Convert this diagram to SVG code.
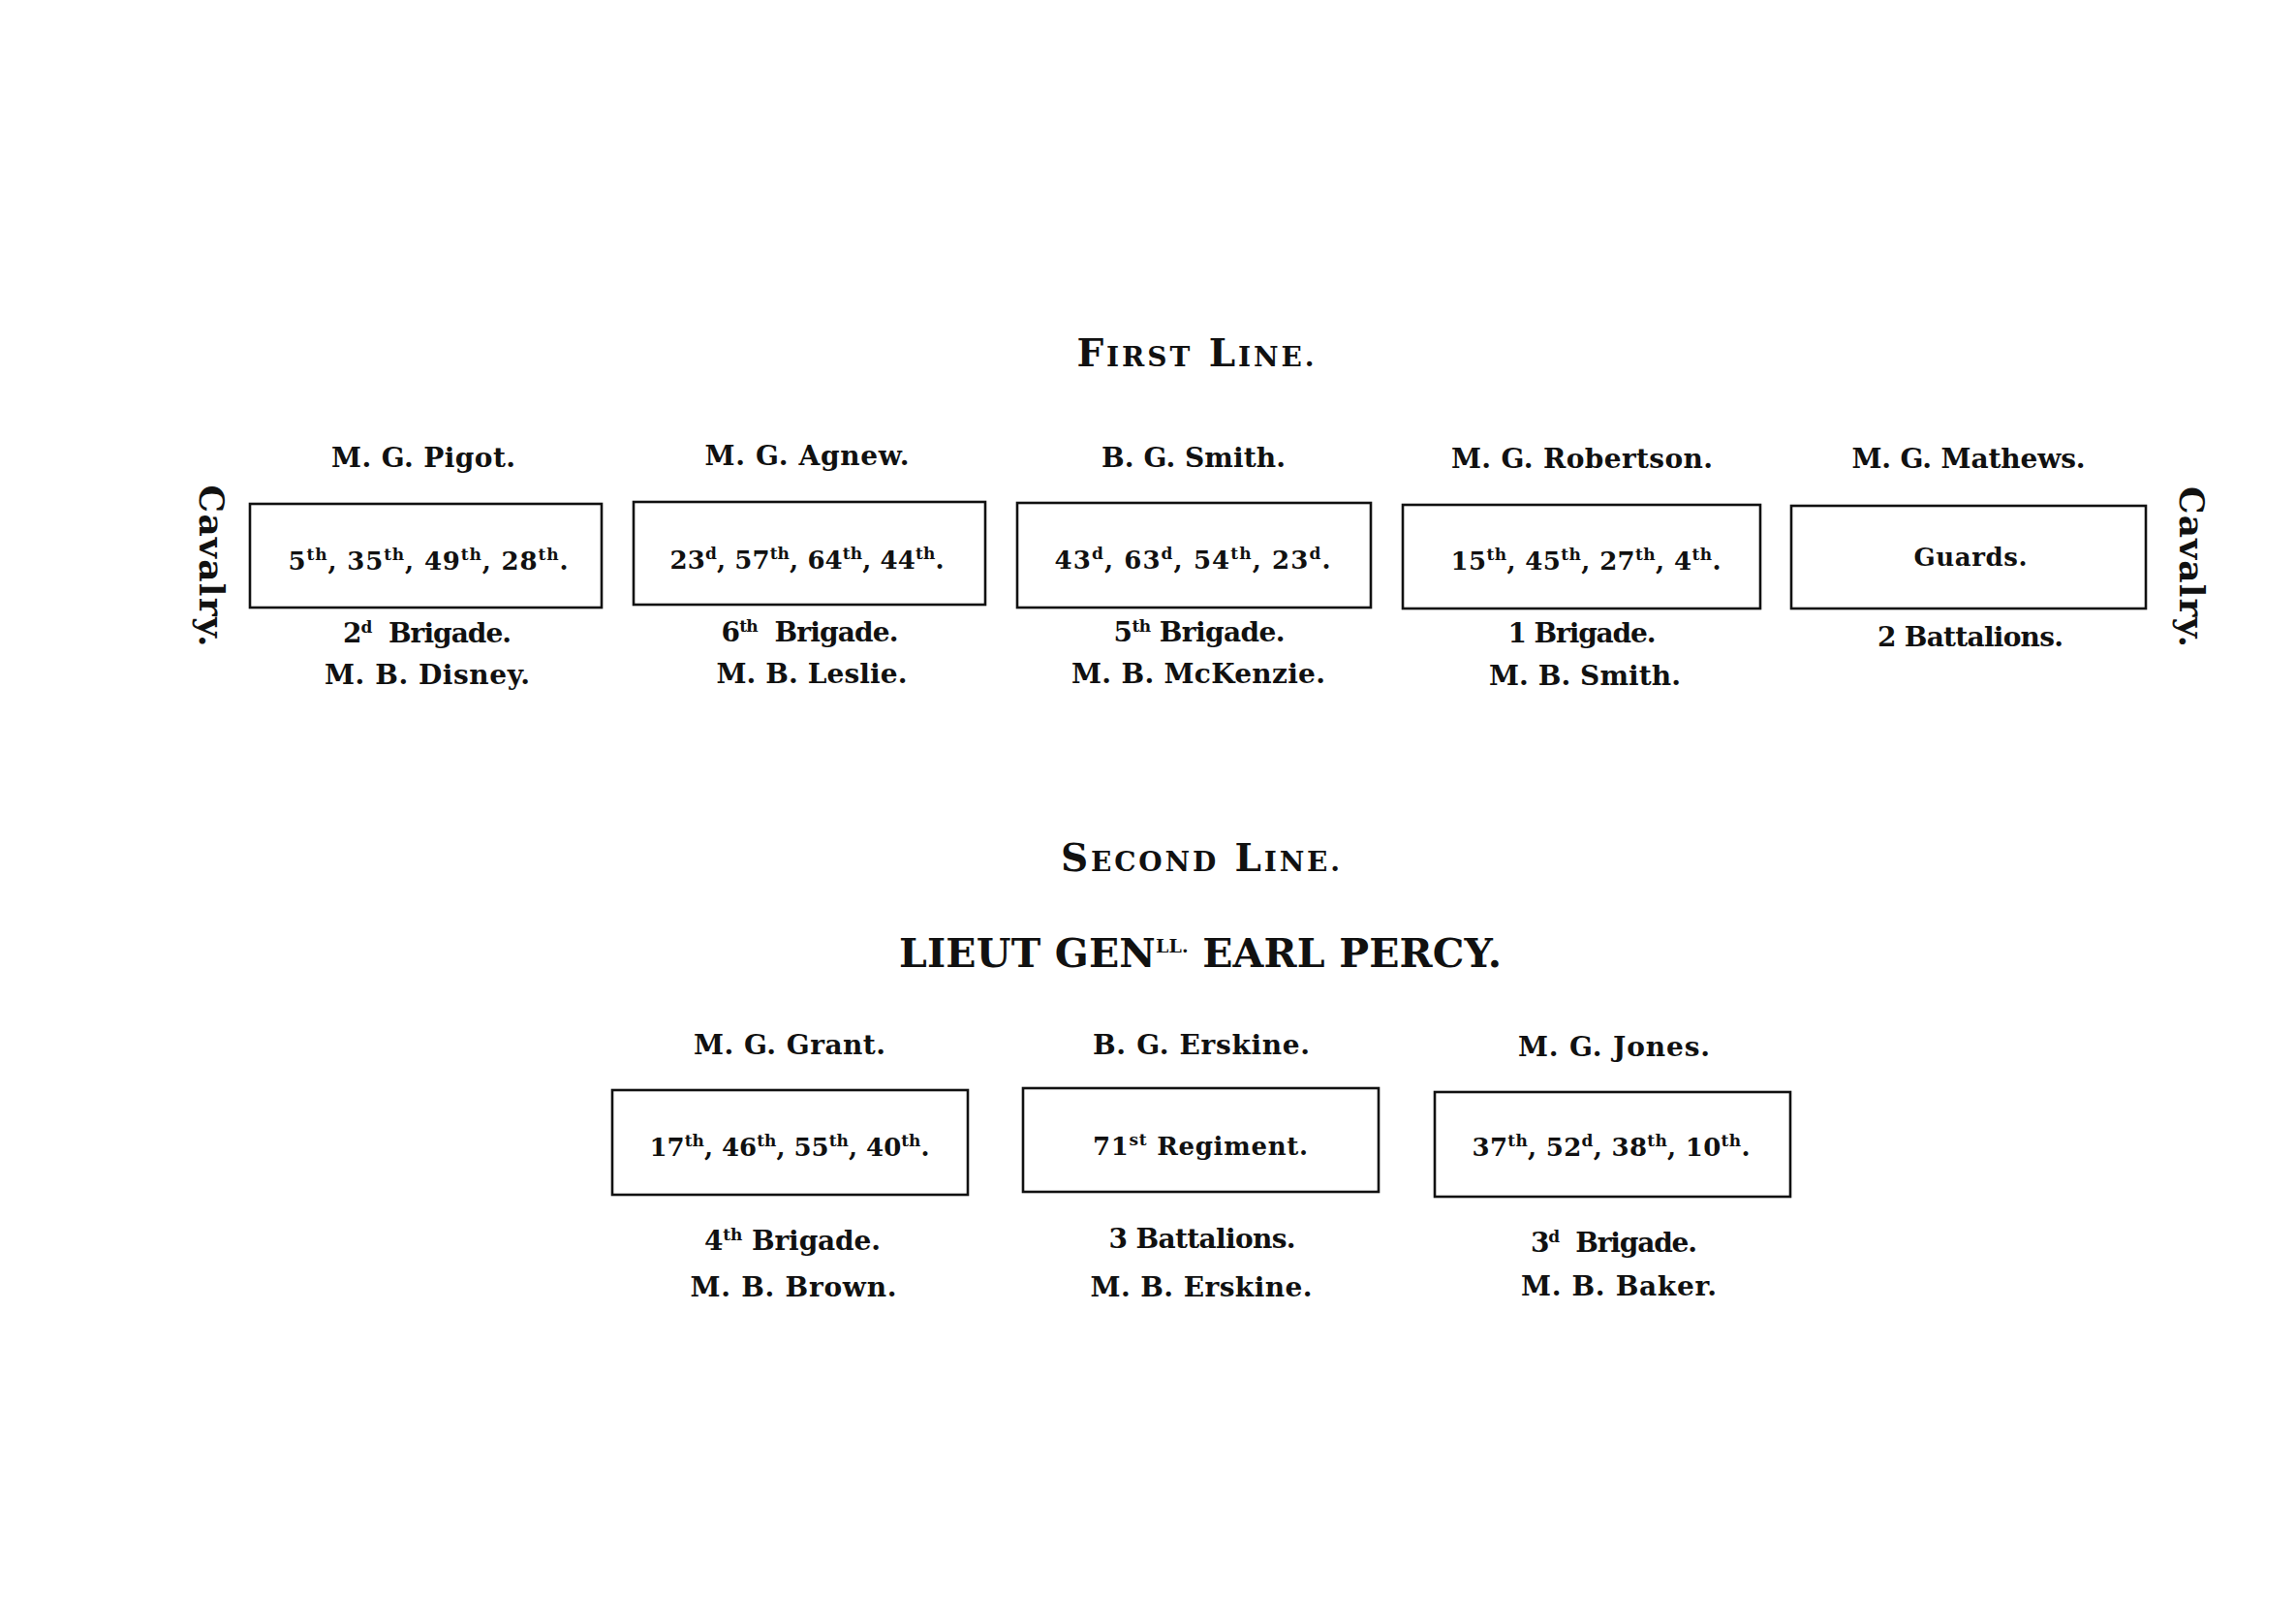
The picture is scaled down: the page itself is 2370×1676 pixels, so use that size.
<svg xmlns="http://www.w3.org/2000/svg" width="2370" height="1676" viewBox="0 0 2370 1676">
<style>
  text { font-family: "DejaVu Serif", "Liberation Serif", serif; fill: #111; text-anchor: middle; }
  .lbl { font-size: 28px; font-weight: bold; }
  .unit { font-size: 26px; font-weight: bold; }
  .sup { font-size: 17px; }
  .title { font-size: 39px; font-weight: 600; }
  .sc { font-size: 28px; }
  .cmd { font-size: 41px; font-weight: 600; }
  .cav { font-size: 36px; font-weight: bold; }
  .box { fill: none; stroke: #111; stroke-width: 2.6; }
</style>
<rect x="0" y="0" width="2370" height="1676" fill="#fff"/>

<g id="title-first">
  <text class="title" x="1234" y="378" textLength="245" lengthAdjust="spacing">F<tspan class="sc">IRST</tspan> L<tspan class="sc">INE.</tspan></text>
</g>

<g id="cavalry-left">
  <text class="cav" transform="translate(206,584) rotate(90)" x="0" y="0" textLength="167" lengthAdjust="spacing">Cavalry.</text>
</g>
<g id="cavalry-right">
  <text class="cav" transform="translate(2250,585) rotate(90)" x="0" y="0" textLength="166" lengthAdjust="spacing">Cavalry.</text>
</g>

<g id="pigot">
  <text class="lbl" x="437" y="482" textLength="190" lengthAdjust="spacing">M. G. Pigot.</text>
  <rect class="box" x="258" y="520" width="363" height="107"/>
  <text class="unit" x="442" y="588" textLength="289" lengthAdjust="spacing">5<tspan class="sup" dy="-10">th</tspan><tspan dy="10">, 35</tspan><tspan class="sup" dy="-10">th</tspan><tspan dy="10">, 49</tspan><tspan class="sup" dy="-10">th</tspan><tspan dy="10">, 28</tspan><tspan class="sup" dy="-10">th</tspan><tspan dy="10">.</tspan></text>
  <text class="lbl" x="441" y="663" textLength="174" lengthAdjust="spacing" xml:space="preserve">2<tspan class="sup" dy="-10">d</tspan><tspan dy="10">  Brigade.</tspan></text>
  <text class="lbl" x="441" y="706" textLength="212" lengthAdjust="spacing">M. B. Disney.</text>
</g>

<g id="agnew">
  <text class="lbl" x="833" y="480" textLength="211" lengthAdjust="spacing">M. G. Agnew.</text>
  <rect class="box" x="654" y="518" width="363" height="106"/>
  <text class="unit" x="833" y="587" textLength="283" lengthAdjust="spacing">23<tspan class="sup" dy="-10">d</tspan><tspan dy="10">, 57</tspan><tspan class="sup" dy="-10">th</tspan><tspan dy="10">, 64</tspan><tspan class="sup" dy="-10">th</tspan><tspan dy="10">, 44</tspan><tspan class="sup" dy="-10">th</tspan><tspan dy="10">.</tspan></text>
  <text class="lbl" x="836" y="662" textLength="183" lengthAdjust="spacing" xml:space="preserve">6<tspan class="sup" dy="-10">th</tspan><tspan dy="10">  Brigade.</tspan></text>
  <text class="lbl" x="838" y="705" textLength="197" lengthAdjust="spacing">M. B. Leslie.</text>
</g>

<g id="smith">
  <text class="lbl" x="1232" y="482" textLength="190" lengthAdjust="spacing">B. G. Smith.</text>
  <rect class="box" x="1050" y="519" width="365" height="108"/>
  <text class="unit" x="1231" y="587" textLength="285" lengthAdjust="spacing">43<tspan class="sup" dy="-10">d</tspan><tspan dy="10">, 63</tspan><tspan class="sup" dy="-10">d</tspan><tspan dy="10">, 54</tspan><tspan class="sup" dy="-10">th</tspan><tspan dy="10">, 23</tspan><tspan class="sup" dy="-10">d</tspan><tspan dy="10">.</tspan></text>
  <text class="lbl" x="1238" y="662" textLength="177" lengthAdjust="spacing">5<tspan class="sup" dy="-10">th</tspan><tspan dy="10"> Brigade.</tspan></text>
  <text class="lbl" x="1237" y="705" textLength="262" lengthAdjust="spacing">M. B. McKenzie.</text>
</g>

<g id="robertson">
  <text class="lbl" x="1633" y="483" textLength="270" lengthAdjust="spacing">M. G. Robertson.</text>
  <rect class="box" x="1448" y="521" width="369" height="107"/>
  <text class="unit" x="1637" y="588" textLength="279" lengthAdjust="spacing">15<tspan class="sup" dy="-10">th</tspan><tspan dy="10">, 45</tspan><tspan class="sup" dy="-10">th</tspan><tspan dy="10">, 27</tspan><tspan class="sup" dy="-10">th</tspan><tspan dy="10">, 4</tspan><tspan class="sup" dy="-10">th</tspan><tspan dy="10">.</tspan></text>
  <text class="lbl" x="1633" y="663" textLength="153" lengthAdjust="spacing">1 Brigade.</text>
  <text class="lbl" x="1636" y="707" textLength="198" lengthAdjust="spacing">M. B. Smith.</text>
</g>

<g id="mathews">
  <text class="lbl" x="2032" y="483" textLength="241" lengthAdjust="spacing">M. G. Mathews.</text>
  <rect class="box" x="1849" y="522" width="366" height="106"/>
  <text class="unit" x="2034" y="584" textLength="117" lengthAdjust="spacing">Guards.</text>
  <text class="lbl" x="2034" y="667" textLength="192" lengthAdjust="spacing">2 Battalions.</text>
</g>

<g id="title-second">
  <text class="title" x="1239" y="899" textLength="288" lengthAdjust="spacing">S<tspan class="sc">ECOND</tspan> L<tspan class="sc">INE.</tspan></text>
</g>

<g id="commander">
  <text class="cmd" x="1239" y="998" textLength="622" lengthAdjust="spacing">LIEUT GEN<tspan font-size="19" dy="-15">LL.</tspan><tspan dy="15"> EARL PERCY.</tspan></text>
</g>

<g id="grant">
  <text class="lbl" x="815" y="1088" textLength="198" lengthAdjust="spacing">M. G. Grant.</text>
  <rect class="box" x="632" y="1125" width="367" height="108"/>
  <text class="unit" x="815" y="1193" textLength="289" lengthAdjust="spacing">17<tspan class="sup" dy="-10">th</tspan><tspan dy="10">, 46</tspan><tspan class="sup" dy="-10">th</tspan><tspan dy="10">, 55</tspan><tspan class="sup" dy="-10">th</tspan><tspan dy="10">, 40</tspan><tspan class="sup" dy="-10">th</tspan><tspan dy="10">.</tspan></text>
  <text class="lbl" x="818" y="1290" textLength="182" lengthAdjust="spacing">4<tspan class="sup" dy="-10">th</tspan><tspan dy="10"> Brigade.</tspan></text>
  <text class="lbl" x="819" y="1338" textLength="213" lengthAdjust="spacing">M. B. Brown.</text>
</g>

<g id="erskine">
  <text class="lbl" x="1240" y="1088" textLength="224" lengthAdjust="spacing">B. G. Erskine.</text>
  <rect class="box" x="1056" y="1123" width="367" height="107"/>
  <text class="unit" x="1239" y="1192" textLength="222" lengthAdjust="spacing">71<tspan class="sup" dy="-10">st</tspan><tspan dy="10"> Regiment.</tspan></text>
  <text class="lbl" x="1241" y="1288" textLength="193" lengthAdjust="spacing">3 Battalions.</text>
  <text class="lbl" x="1240" y="1338" textLength="229" lengthAdjust="spacing">M. B. Erskine.</text>
</g>

<g id="jones">
  <text class="lbl" x="1666" y="1090" textLength="198" lengthAdjust="spacing">M. G. Jones.</text>
  <rect class="box" x="1481" y="1127" width="367" height="108"/>
  <text class="unit" x="1663" y="1193" textLength="287" lengthAdjust="spacing">37<tspan class="sup" dy="-10">th</tspan><tspan dy="10">, 52</tspan><tspan class="sup" dy="-10">d</tspan><tspan dy="10">, 38</tspan><tspan class="sup" dy="-10">th</tspan><tspan dy="10">, 10</tspan><tspan class="sup" dy="-10">th</tspan><tspan dy="10">.</tspan></text>
  <text class="lbl" x="1666" y="1292" textLength="172" lengthAdjust="spacing" xml:space="preserve">3<tspan class="sup" dy="-10">d</tspan><tspan dy="10">  Brigade.</tspan></text>
  <text class="lbl" x="1671" y="1337" textLength="202" lengthAdjust="spacing">M. B. Baker.</text>
</g>

<g id="connectors"></g>
</svg>
